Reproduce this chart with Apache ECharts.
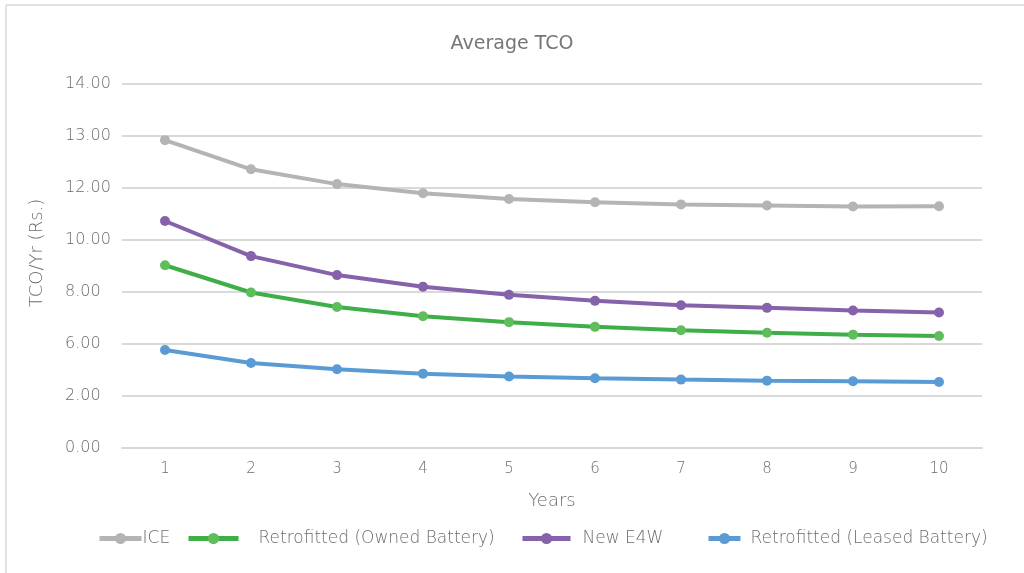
<!DOCTYPE html>
<html>
<head>
<meta charset="utf-8">
<script src="https://cdn.jsdelivr.net/npm/echarts@6/dist/echarts.min.js"></script>
<style>
  html, body { margin: 0; padding: 0; background: #fff; }
  #chart { width: 1024px; height: 573px; }
</style>
</head>
<body>
<div id="chart"></div>
<script>
// Years of ownership
const years = ['1', '2', '3', '4', '5', '6', '7', '8', '9', '10'];

// Average total cost of ownership per year (Rs.)
const ice = [11.84, 10.72, 10.15, 9.80, 9.58, 9.45, 9.37, 9.33, 9.29, 9.30];
const retrofittedOwned = [7.03, 5.98, 5.42, 5.07, 4.84, 4.66, 4.53, 4.43, 4.36, 4.31];
const newE4W = [8.73, 7.38, 6.65, 6.20, 5.89, 5.66, 5.49, 5.39, 5.29, 5.21];
const retrofittedLeased = [3.77, 3.27, 3.03, 2.86, 2.75, 2.68, 2.63, 2.59, 2.57, 2.54];

// Labels printed at the value-axis gridlines, bottom to top
const yTickLabels = ['0.00', '2.00', '6.00', '8.00', '10.00', '12.00', '13.00', '14.00'];

const FONT = '"DejaVu Sans", "Open Sans", sans-serif';
const TEXT = '#6c6c6c';

const seriesDefs = [
  { name: 'ICE', data: ice, line: '#b4b4b4', dot: '#b4b4b4' },
  { name: 'Retrofitted (Owned Battery)', data: retrofittedOwned, line: '#3fae49', dot: '#5fbd5c' },
  { name: 'New E4W', data: newE4W, line: '#8562aa', dot: '#8562aa' },
  { name: 'Retrofitted (Leased Battery)', data: retrofittedLeased, line: '#5b9bd5', dot: '#5b9bd5' }
];

// Legend entry placement: left edge, swatch width, text offset
const legendLefts = [97, 186, 520, 706];
const legendWidths = [42, 50, 48, 32];
const legendPads = [-4, 15, 7, 5];

const chart = echarts.init(document.getElementById('chart'), null, { renderer: 'canvas' });

chart.setOption({
  animation: false,
  backgroundColor: '#ffffff',
  title: {
    text: 'Average TCO',
    left: 'center',
    top: 30,
    textStyle: { fontFamily: FONT, fontSize: 19, fontWeight: 'normal', color: '#767676' }
  },
  graphic: [
    { type: 'line', shape: { x1: 6, y1: 5, x2: 1024, y2: 5 }, style: { stroke: '#c8c8c8', lineWidth: 1 } },
    { type: 'line', shape: { x1: 6, y1: 5, x2: 6, y2: 573 }, style: { stroke: '#c8c8c8', lineWidth: 1 } }
  ],
  legend: seriesDefs.map((s, i) => ({
    data: [s.name],
    left: legendLefts[i],
    top: 530,
    padding: 0,
    itemWidth: legendWidths[i],
    itemHeight: 14,
    itemGap: 0,
    lineStyle: { width: 5 },
    itemStyle: { borderWidth: 0 },
    textStyle: { fontFamily: FONT, fontSize: 17, color: TEXT, fontWeight: 200, padding: [0, 0, 0, legendPads[i]] }
  })),
  grid: { left: 122, right: 42, top: 84, bottom: 125 },
  xAxis: {
    type: 'category',
    data: years,
    boundaryGap: true,
    name: 'Years',
    nameLocation: 'middle',
    nameGap: 44,
    nameTextStyle: { fontFamily: FONT, fontSize: 18, color: TEXT, fontWeight: 200 },
    axisLine: { show: true, lineStyle: { color: '#d9d9d9', width: 2 } },
    axisTick: { show: false },
    axisLabel: { fontFamily: FONT, fontSize: 15, color: TEXT, fontWeight: 200, margin: 14 }
  },
  yAxis: {
    type: 'value',
    min: 0,
    max: 14,
    interval: 2,
    name: 'TCO/Yr (Rs.)',
    nameLocation: 'middle',
    nameGap: 76,
    nameRotate: 90,
    nameTextStyle: { fontFamily: FONT, fontSize: 18, color: TEXT, fontWeight: 200, padding: [0, 0, 0, 26] },
    axisLine: { show: false },
    axisTick: { show: false },
    splitLine: { lineStyle: { color: '#d9d9d9', width: 2 } },
    axisLabel: {
      fontFamily: FONT,
      fontSize: 16,
      color: TEXT,
      fontWeight: 200,
      margin: 57,
      align: 'left',
      formatter: v => yTickLabels[Math.round(v / 2)]
    }
  },
  series: seriesDefs.map(s => ({
    name: s.name,
    type: 'line',
    data: s.data,
    symbol: 'circle',
    symbolSize: 10,
    lineStyle: { color: s.line, width: 4 },
    itemStyle: { color: s.dot },
    emphasis: { disabled: true }
  }))
});
</script>
</body>
</html>
